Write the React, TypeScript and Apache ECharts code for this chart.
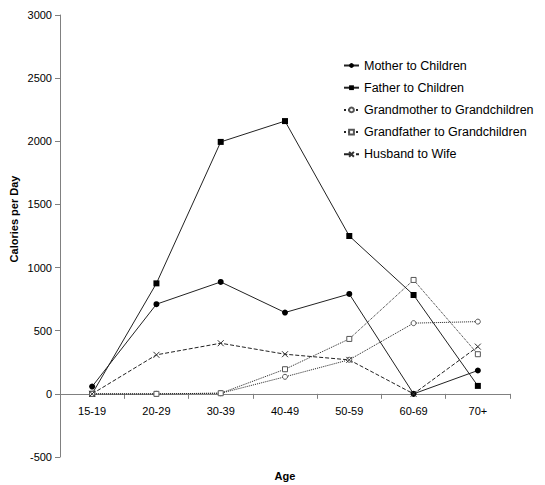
import React, { useEffect, useRef } from "react";
import * as echarts from "echarts";

const categories = ["15-19", "20-29", "30-39", "40-49", "50-59", "60-69", "70+"];
const motherToChildren = [58, 710, 886, 644, 791, 0, 185];
const fatherToChildren = [0, 875, 1995, 2160, 1250, 783, 63];
const grandmotherToGrandchildren = [0, 0, 5, 135, 270, 560, 572];
const grandfatherToGrandchildren = [0, 0, 5, 195, 435, 902, 314];
const husbandToWife = [0, 309, 401, 314, 269, 0, 374];

const CROSS = "path://M0,0L10,10M10,0L0,10";

export default function App() {
  const ref = useRef<HTMLDivElement>(null);
  useEffect(() => {
    if (!ref.current) return;
    const chart = echarts.init(ref.current, null, { renderer: "svg" });
    const font = "Liberation Sans, Arial, sans-serif";
    const lineBase = (name: string, data: number[], type: string, symbol: string, size: number, filled: boolean) => ({
      name,
      type: "line",
      data,
      symbol,
      symbolSize: size,
      showSymbol: true,
      lineStyle: { color: "#222", width: 1, type },
      itemStyle: filled
        ? { color: "#000", borderColor: "#000", borderWidth: 0 }
        : { color: "#fff", borderColor: "#555", borderWidth: 1 },
      emphasis: { disabled: true },
      z: 3,
    });
    chart.setOption({
      animation: false,
      textStyle: { fontFamily: font },
      grid: { left: 60, right: 35, top: 15, bottom: 28, containLabel: false, outerBoundsMode: "none" },
      legend: {
        orient: "vertical",
        left: 338,
        top: 54,
        itemGap: 9.2,
        itemWidth: 15,
        itemHeight: 6,
        textStyle: { fontFamily: font, fontSize: 12.5, color: "#000" },
        data: [
          "Mother to Children",
          "Father to Children",
          "Grandmother to Grandchildren",
          "Grandfather to Grandchildren",
          "Husband to Wife",
        ],
      },
      graphic: [
        {
          type: "text",
          x: 14,
          y: 219,
          rotation: Math.PI / 2,
          style: {
            text: "Calories per Day",
            fontFamily: font,
            fontWeight: "bold",
            fontSize: 11,
            fill: "#000",
            align: "center",
            verticalAlign: "middle",
          },
        },
        {
          type: "text",
          x: 285,
          y: 476,
          style: {
            text: "Age",
            fontFamily: font,
            fontWeight: "bold",
            fontSize: 11,
            fill: "#000",
            align: "center",
            verticalAlign: "middle",
          },
        },
      ],
      xAxis: {
        type: "category",
        data: categories,
        offset: 0,
        axisLine: { onZero: false, lineStyle: { color: "#808080", width: 1 } },
        axisTick: { show: true, length: 5, lineStyle: { color: "#808080" } },
        axisLabel: { color: "#000", fontSize: 11, fontFamily: font, margin: 12 },
        splitLine: { show: false },
      },
      yAxis: {
        type: "value",
        min: -500,
        max: 3000,
        interval: 500,
        axisLine: { show: true, lineStyle: { color: "#808080", width: 1 } },
        axisTick: { show: true, length: 5, lineStyle: { color: "#808080" } },
        axisLabel: { color: "#000", fontSize: 11, fontFamily: font, margin: 8, formatter: (v: number) => String(v) },
        splitLine: { show: false },
      },
      series: [
        lineBase("Mother to Children", motherToChildren, "solid", "circle", 6, true),
        lineBase("Father to Children", fatherToChildren, "solid", "rect", 6, true),
        lineBase("Grandmother to Grandchildren", grandmotherToGrandchildren, "dotted", "circle", 5, false),
        lineBase("Grandfather to Grandchildren", grandfatherToGrandchildren, "dotted", "rect", 5, false),
        {
          ...lineBase("Husband to Wife", husbandToWife, "dashed", CROSS, 6, false),
          itemStyle: { color: "transparent", borderColor: "#333", borderWidth: 1 },
        },
      ],
    });
    const yZero = chart.convertToPixel({ yAxisIndex: 0 }, 0) as number;
    const yMin = chart.convertToPixel({ yAxisIndex: 0 }, -500) as number;
    chart.setOption({ xAxis: { offset: yZero - yMin } });
    return () => chart.dispose();
  }, []);
  return (
    <div
      ref={ref}
      style={{ position: "fixed", left: 0, top: 0, width: 545, height: 485, background: "#fff" }}
    />
  );
}
